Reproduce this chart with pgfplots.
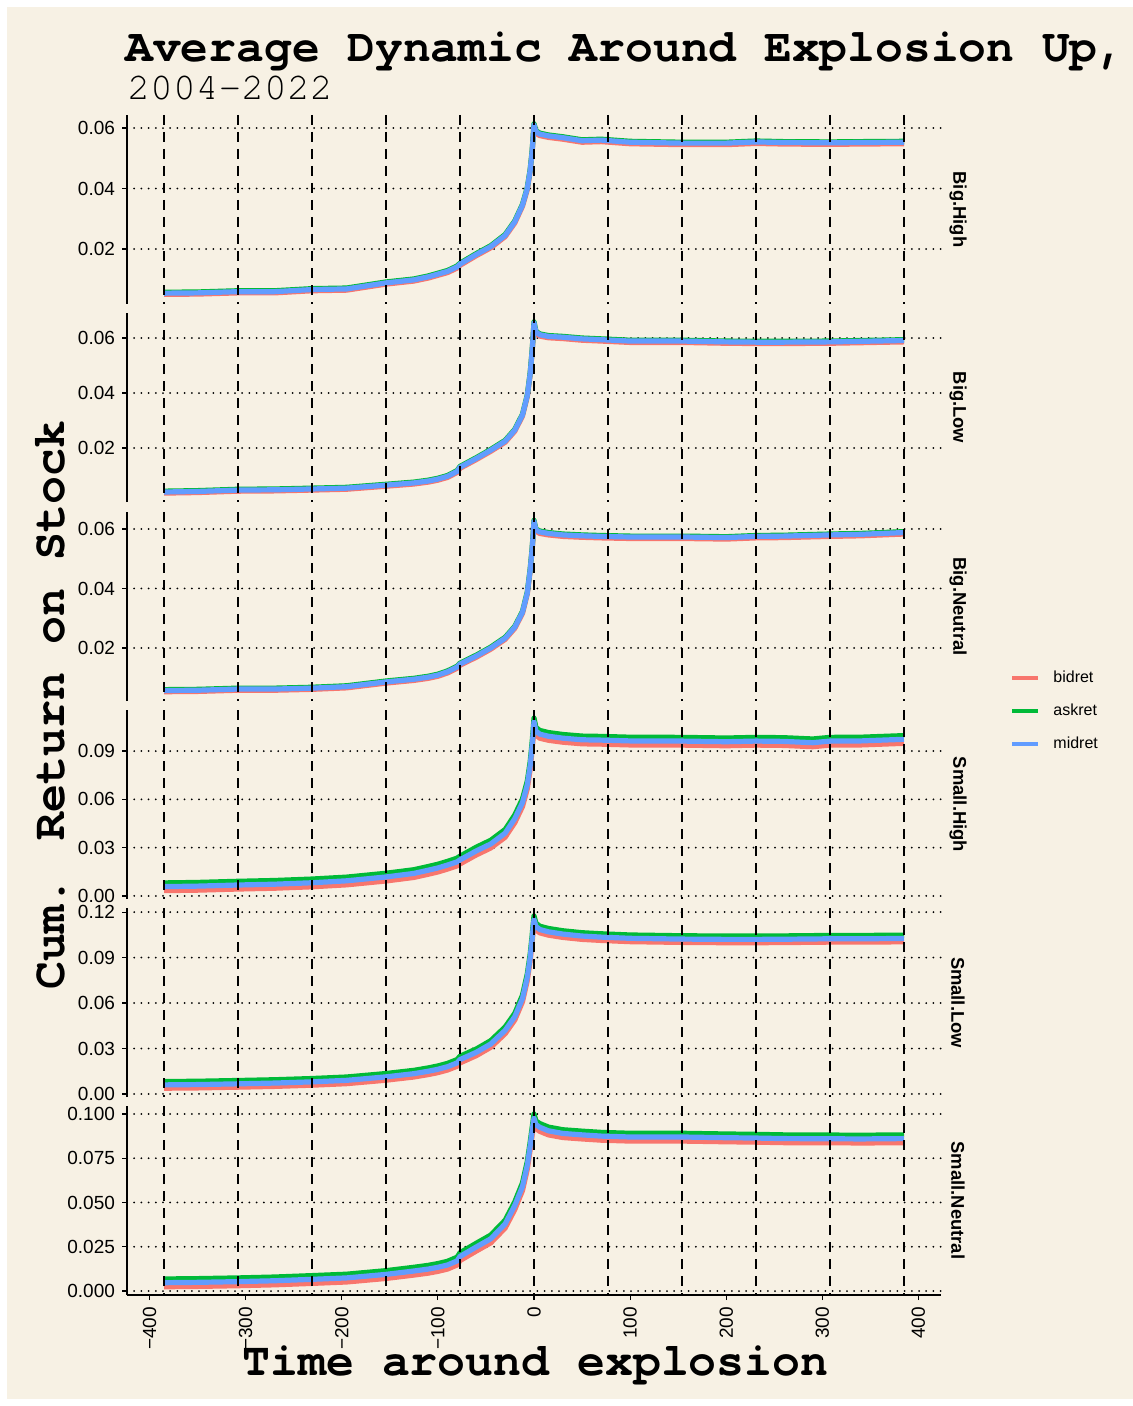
\documentclass[border=0pt]{standalone}
\usepackage{pgfplots}
\usepackage{pgfplotstable}
\pgfplotsset{compat=1.18}
\usepackage{fontspec}
\newfontfamily\lsans{Liberation Sans}
\newfontfamily\cursor{TeX Gyre Cursor}
\definecolor{bg}{HTML}{F7F1E4}
\definecolor{cbid}{HTML}{F8766D}
\definecolor{cask}{HTML}{00BA38}
\definecolor{cmid}{HTML}{619CFF}

\pgfplotstableread{
x mid ask bid
-385 0.0054 0.0057 0.0050
-350 0.0055 0.0058 0.0051
-308 0.0059 0.0062 0.0055
-270 0.0059 0.0062 0.0055
-231 0.0066 0.0069 0.0062
-195 0.0068 0.0071 0.0064
-154 0.0088 0.0091 0.0084
-125 0.0098 0.0101 0.0094
-110 0.0108 0.0111 0.0104
-100 0.0117 0.0120 0.0113
-90 0.0126 0.0129 0.0122
-80 0.0141 0.0144 0.0137
-77 0.0150 0.0153 0.0146
-60 0.0182 0.0185 0.0178
-45 0.0208 0.0211 0.0204
-30 0.0245 0.0248 0.0241
-20 0.0290 0.0293 0.0286
-12 0.0345 0.0348 0.0341
-7 0.0400 0.0403 0.0396
-4 0.0460 0.0463 0.0456
-2 0.0520 0.0523 0.0516
-1 0.0565 0.0568 0.0561
0 0.0610 0.0614 0.0604
2 0.0588 0.0591 0.0582
6 0.0580 0.0583 0.0575
15 0.0574 0.0577 0.0569
30 0.0568 0.0571 0.0563
50 0.0558 0.0561 0.0553
70 0.0560 0.0563 0.0555
100 0.0553 0.0556 0.0548
154 0.0550 0.0553 0.0545
200 0.0550 0.0553 0.0545
231 0.0554 0.0557 0.0549
260 0.0552 0.0555 0.0547
308 0.0551 0.0554 0.0546
340 0.0552 0.0555 0.0547
385 0.0553 0.0556 0.0548
}\tabA

\pgfplotstableread{
x mid ask bid
-385 0.0040 0.0043 0.0036
-350 0.0042 0.0045 0.0038
-308 0.0047 0.0050 0.0043
-270 0.0048 0.0051 0.0044
-231 0.0051 0.0054 0.0047
-195 0.0054 0.0057 0.0050
-154 0.0065 0.0068 0.0061
-125 0.0073 0.0076 0.0069
-110 0.0080 0.0083 0.0076
-100 0.0087 0.0090 0.0083
-90 0.0097 0.0100 0.0093
-80 0.0115 0.0118 0.0111
-77 0.0130 0.0133 0.0126
-60 0.0162 0.0165 0.0158
-45 0.0192 0.0195 0.0188
-30 0.0225 0.0228 0.0221
-20 0.0265 0.0268 0.0261
-12 0.0320 0.0323 0.0316
-7 0.0390 0.0393 0.0386
-4 0.0470 0.0473 0.0466
-2 0.0550 0.0553 0.0546
-1 0.0600 0.0603 0.0596
0 0.0655 0.0659 0.0649
2 0.0622 0.0625 0.0617
6 0.0612 0.0615 0.0607
15 0.0606 0.0609 0.0601
30 0.0603 0.0606 0.0598
50 0.0597 0.0600 0.0592
70 0.0594 0.0597 0.0589
100 0.0589 0.0592 0.0584
154 0.0589 0.0592 0.0584
200 0.0586 0.0589 0.0581
231 0.0585 0.0588 0.0580
260 0.0585 0.0588 0.0580
308 0.0586 0.0589 0.0581
340 0.0588 0.0591 0.0583
385 0.0591 0.0594 0.0586
}\tabB

\pgfplotstableread{
x mid ask bid
-385 0.0057 0.0060 0.0053
-350 0.0058 0.0061 0.0054
-308 0.0062 0.0065 0.0058
-270 0.0062 0.0065 0.0058
-231 0.0065 0.0068 0.0061
-195 0.0070 0.0073 0.0066
-154 0.0086 0.0089 0.0082
-125 0.0095 0.0098 0.0091
-110 0.0102 0.0105 0.0098
-100 0.0109 0.0112 0.0105
-90 0.0120 0.0123 0.0116
-80 0.0136 0.0139 0.0132
-77 0.0146 0.0149 0.0142
-60 0.0173 0.0176 0.0169
-45 0.0200 0.0203 0.0196
-30 0.0233 0.0236 0.0229
-20 0.0270 0.0273 0.0266
-12 0.0320 0.0323 0.0316
-7 0.0385 0.0388 0.0381
-4 0.0462 0.0465 0.0458
-2 0.0530 0.0533 0.0526
-1 0.0575 0.0578 0.0571
0 0.0625 0.0629 0.0619
2 0.0597 0.0600 0.0592
6 0.0590 0.0593 0.0585
15 0.0585 0.0588 0.0580
30 0.0580 0.0583 0.0575
50 0.0577 0.0580 0.0572
70 0.0575 0.0578 0.0570
100 0.0573 0.0576 0.0568
154 0.0573 0.0576 0.0568
200 0.0571 0.0574 0.0566
231 0.0575 0.0578 0.0570
260 0.0576 0.0579 0.0571
308 0.0580 0.0583 0.0575
340 0.0582 0.0585 0.0577
385 0.0588 0.0591 0.0583
}\tabC

\pgfplotstableread{
x mid ask bid
-385 0.0058 0.0081 0.0033
-350 0.0061 0.0084 0.0036
-308 0.0068 0.0091 0.0043
-270 0.0073 0.0096 0.0048
-231 0.0082 0.0105 0.0057
-195 0.0094 0.0117 0.0069
-154 0.0118 0.0141 0.0093
-125 0.0140 0.0163 0.0115
-110 0.0160 0.0183 0.0135
-100 0.0174 0.0197 0.0149
-90 0.0192 0.0215 0.0167
-80 0.0212 0.0235 0.0187
-77 0.0224 0.0247 0.0199
-60 0.0280 0.0303 0.0255
-45 0.0323 0.0346 0.0298
-30 0.0390 0.0413 0.0365
-20 0.0480 0.0503 0.0455
-12 0.0580 0.0603 0.0555
-7 0.0690 0.0713 0.0665
-4 0.0810 0.0833 0.0785
-2 0.0930 0.0953 0.0905
-1 0.1000 0.1023 0.0975
0 0.1080 0.1105 0.1040
2 0.1024 0.1047 0.0999
6 0.1005 0.1028 0.0980
15 0.0992 0.1015 0.0967
30 0.0980 0.1003 0.0955
50 0.0970 0.0993 0.0945
70 0.0968 0.0991 0.0943
100 0.0963 0.0986 0.0938
154 0.0962 0.0985 0.0937
200 0.0958 0.0981 0.0933
231 0.0962 0.0985 0.0937
260 0.0960 0.0983 0.0935
290 0.0952 0.0975 0.0927
308 0.0962 0.0985 0.0937
340 0.0963 0.0986 0.0938
385 0.0973 0.0996 0.0948
}\tabD

\pgfplotstableread{
x mid ask bid
-385 0.0060 0.0082 0.0038
-350 0.0062 0.0084 0.0040
-308 0.0067 0.0089 0.0045
-270 0.0072 0.0094 0.0050
-231 0.0080 0.0102 0.0058
-195 0.0090 0.0112 0.0068
-154 0.0113 0.0135 0.0091
-125 0.0134 0.0156 0.0112
-110 0.0150 0.0172 0.0128
-100 0.0163 0.0185 0.0141
-90 0.0180 0.0202 0.0158
-80 0.0205 0.0227 0.0183
-77 0.0227 0.0249 0.0205
-60 0.0275 0.0297 0.0253
-45 0.0330 0.0352 0.0308
-30 0.0420 0.0442 0.0398
-20 0.0510 0.0532 0.0488
-12 0.0630 0.0652 0.0608
-7 0.0770 0.0792 0.0748
-4 0.0900 0.0922 0.0878
-2 0.1020 0.1042 0.0998
-1 0.1090 0.1112 0.1068
0 0.1150 0.1175 0.1110
2 0.1105 0.1127 0.1083
6 0.1085 0.1107 0.1063
15 0.1070 0.1092 0.1048
30 0.1055 0.1077 0.1033
50 0.1042 0.1064 0.1020
70 0.1035 0.1057 0.1013
100 0.1027 0.1049 0.1005
154 0.1022 0.1044 0.1000
200 0.1020 0.1042 0.0998
231 0.1020 0.1042 0.0998
260 0.1021 0.1043 0.0999
308 0.1024 0.1046 0.1002
340 0.1024 0.1046 0.1002
385 0.1026 0.1048 0.1004
}\tabE

\pgfplotstableread{
x mid ask bid
-385 0.0047 0.0068 0.0024
-350 0.0049 0.0070 0.0026
-308 0.0053 0.0074 0.0030
-270 0.0058 0.0079 0.0035
-231 0.0066 0.0087 0.0043
-195 0.0074 0.0095 0.0051
-154 0.0094 0.0115 0.0071
-125 0.0113 0.0134 0.0090
-110 0.0124 0.0145 0.0101
-100 0.0134 0.0155 0.0111
-90 0.0147 0.0168 0.0124
-80 0.0170 0.0191 0.0147
-77 0.0195 0.0216 0.0172
-60 0.0249 0.0270 0.0226
-45 0.0295 0.0316 0.0272
-30 0.0379 0.0400 0.0356
-20 0.0483 0.0504 0.0460
-12 0.0590 0.0611 0.0567
-7 0.0710 0.0731 0.0687
-4 0.0820 0.0841 0.0797
-2 0.0900 0.0921 0.0877
-1 0.0940 0.0961 0.0917
0 0.0975 0.1000 0.0940
2 0.0940 0.0961 0.0917
6 0.0925 0.0946 0.0902
15 0.0905 0.0926 0.0882
30 0.0890 0.0911 0.0867
50 0.0882 0.0903 0.0859
70 0.0875 0.0896 0.0852
100 0.0870 0.0891 0.0847
154 0.0870 0.0891 0.0847
200 0.0866 0.0887 0.0843
231 0.0864 0.0885 0.0841
260 0.0861 0.0882 0.0838
308 0.0860 0.0881 0.0838
340 0.0859 0.0880 0.0836
385 0.0861 0.0882 0.0838
}\tabF

\pgfplotsset{
  panel/.style={
    scale only axis, width=407pt, height=94.5pt,
    xmin=-423.5, xmax=423.5,
    clip=false,
    anchor=south west,
    scaled y ticks=false,
    axis line style={black, line width=0.7pt},
    tick align=outside, major tick length=2.5pt,
    ytick style={black, line width=0.6pt},
    xtick style={black, line width=0.6pt},
    ymajorgrids,
    major grid style={black, line width=1pt, dash pattern=on 0pt off 3.6pt, line cap=round},
    tick label style={font=\lsans\fontsize{9.5}{11}\selectfont},
    /pgf/number format/assume math mode=true,
    yticklabel style={/pgf/number format/fixed, /pgf/number format/fixed zerofill, /pgf/number format/precision=2},
    every axis plot/.append style={line width=2.6pt, line join=round},
  },
  toppanel/.style={panel, axis x line=none, axis y line*=left, xtick=\empty},
}

\newcommand{\vlines}{\pgfplotsinvokeforeach{-385,-308,-231,-154,-77,0,77,154,231,308,385}{\draw[black, line width=1pt, dash pattern=on 5pt off 3.5pt] ({axis cs:##1,0}|-{rel axis cs:0,1}) -- ({axis cs:##1,0}|-{rel axis cs:0,0});}}
\newcommand{\strip}[1]{\node[rotate=-90, font=\lsans\bfseries\fontsize{9.2}{11}\selectfont] at ([xshift=8.5pt]rel axis cs:1,0.5) {#1};}
\newcommand{\three}[1]{%
  \addplot[cbid] table[x=x,y=bid]{#1};
  \addplot[cask] table[x=x,y=ask]{#1};
  \addplot[cmid] table[x=x,y=mid]{#1};
}

\begin{document}
\begin{tikzpicture}
\path[use as bounding box] (0,0) rectangle (566.5pt,-703pt);
\fill[white] (0,0) rectangle (566.5pt,-703pt);
\fill[bg] (3.5pt,-3.5pt) rectangle (566.5pt,-699.5pt);

\node[anchor=base west, font=\cursor\bfseries\fontsize{23.15}{26}\selectfont, inner sep=0pt] at (62.5pt,-31pt) {Average Dynamic Around Explosion Up, Stock};
\node[anchor=base west, font=\cursor\fontsize{19}{22}\selectfont, inner sep=0pt] at (63.5pt,-50pt) {2004-2022};
\node[anchor=base, rotate=90, font=\cursor\bfseries\fontsize{23.3}{26}\selectfont, inner sep=0pt] at (32pt,-352.5pt) {Cum. Return on Stock};
\node[anchor=base, font=\cursor\bfseries\fontsize{23.25}{26}\selectfont, inner sep=0pt] at (267.75pt,-687.5pt) {Time around explosion};

% Panel 1: Big.High
\begin{axis}[toppanel, at={(63.5pt,-152pt)}, ymin=0.00182, ymax=0.0643, ytick={0.02,0.04,0.06}]
\three{\tabA}
\vlines
\strip{Big.High}
\end{axis}

% Panel 2: Big.Low
\begin{axis}[toppanel, at={(63.5pt,-251pt)}, ymin=0.00036, ymax=0.0691, ytick={0.02,0.04,0.06}]
\three{\tabB}
\vlines
\strip{Big.Low}
\end{axis}

% Panel 3: Big.Neutral
\begin{axis}[toppanel, at={(63.5pt,-350.5pt)}, ymin=0.00218, ymax=0.0657, ytick={0.02,0.04,0.06}]
\three{\tabC}
\vlines
\strip{Big.Neutral}
\end{axis}

% Panel 4: Small.High (with legend)
\begin{axis}[toppanel, at={(63.5pt,-449.5pt)}, ymin=-0.0019, ymax=0.1155, ytick={0,0.03,0.06,0.09},
  legend style={at={(axis description cs:1.0848,0.9947)}, anchor=west, draw=none, fill=none,
    font=\lsans\fontsize{8}{9.6}\selectfont, row sep=9.2pt, inner sep=0pt,
    nodes={inner sep=0pt, text height=6pt, text depth=1.5pt}},
  legend cell align=left,
  legend image code/.code={\draw[#1, line width=2pt, line cap=butt] (0pt,0pt) -- (13pt,0pt);},
  /tikz/every odd column/.append style={column sep=6.5pt}]
\three{\tabD}
\addlegendentry{bidret}
\addlegendentry{askret}
\addlegendentry{midret}
\vlines
\strip{Small.High}
\end{axis}

% Panel 5: Small.Low
\begin{axis}[toppanel, at={(63.5pt,-548.5pt)}, ymin=-0.002, ymax=0.1227, ytick={0,0.03,0.06,0.09,0.12}]
\three{\tabE}
\vlines
\strip{Small.Low}
\end{axis}

% Panel 6: Small.Neutral
\begin{axis}[panel, at={(63.5pt,-647.5pt)}, ymin=-0.00226, ymax=0.1045, ytick={0,0.025,0.05,0.075,0.1},
  yticklabel style={/pgf/number format/precision=3},
  axis x line*=bottom, axis y line*=left,
  xtick={-400,-300,-200,-100,0,100,200,300,400},
  xticklabels={−400,−300,−200,−100,0,100,200,300,400},
  xticklabel style={rotate=90, anchor=east}]
\three{\tabF}
\vlines
\strip{Small.Neutral}
\end{axis}
\end{tikzpicture}
\end{document}
